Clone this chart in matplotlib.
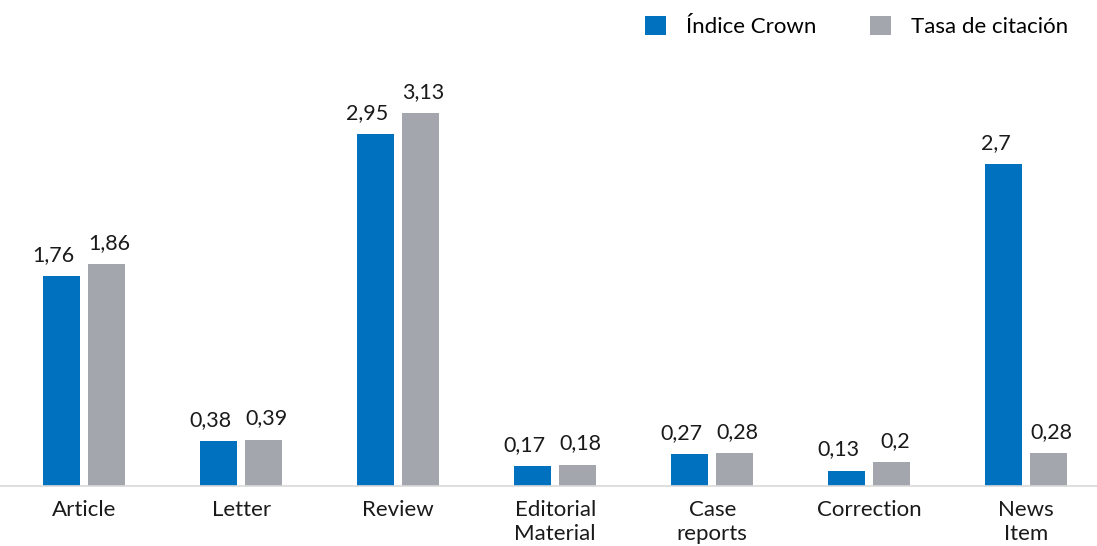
import matplotlib
matplotlib.use('Agg')
import matplotlib.pyplot as plt
import numpy as np

# datos
categorias = ['Article', 'Letter', 'Review', 'Editorial\nMaterial', 'Case\nreports', 'Correction', 'News\nItem']
indice_crown = [1.76, 0.38, 2.95, 0.17, 0.27, 0.13, 2.7]
tasa_citacion = [1.86, 0.39, 3.13, 0.18, 0.28, 0.2, 0.28]
etiq_crown = ['1,76', '0,38', '2,95', '0,17', '0,27', '0,13', '2,7']
etiq_tasa = ['1,86', '0,39', '3,13', '0,18', '0,28', '0,2', '0,28']

azul = '#0071BF'
gris = '#A3A6AC'
fs = 16

plt.rcParams['font.family'] = ['Lato', 'DejaVu Sans']

fig = plt.figure(figsize=(10.97, 5.46), dpi=100)
ax = fig.add_axes([0, 60/546, 1, 426/546])

x = np.arange(len(categorias))
w = 37/157
off = 22.5/157

b1 = ax.bar(x - off, indice_crown, w, color=azul, label='Índice Crown')
b2 = ax.bar(x + off, tasa_citacion, w, color=gris, label='Tasa de citación')

# etiquetas de valor, algo separadas entre si
for rect, t in zip(b1, etiq_crown):
    ax.annotate(t, (rect.get_x() + rect.get_width()/2, rect.get_height()),
                xytext=(-8, 11), textcoords='offset pixels', ha='center', va='bottom',
                fontsize=15.5, color='#1a1a1a')
for rect, t in zip(b2, etiq_tasa):
    ax.annotate(t, (rect.get_x() + rect.get_width()/2, rect.get_height()),
                xytext=(3, 11), textcoords='offset pixels', ha='center', va='bottom',
                fontsize=15.5, color='#1a1a1a')

ax.set_xlim(-0.535, 6.45)
ax.set_ylim(0, 3.574)
ax.set_xticks(x)
ax.set_xticklabels(categorias, fontsize=fs, color='#1a1a1a', linespacing=1.25, va='top')
ax.tick_params(axis='x', length=0, pad=10)
ax.set_yticks([])
for s in ['top', 'right', 'left']:
    ax.spines[s].set_visible(False)
ax.spines['bottom'].set_color('#D9D9D9')
ax.spines['bottom'].set_linewidth(1.2)

fig.legend(loc='upper right', bbox_to_anchor=(0.992, 1.008), ncol=2, frameon=False,
           fontsize=fs, handlelength=0.95, handleheight=0.95, handletextpad=0.9,
           columnspacing=2.4)

fig.savefig('out.png', dpi=100)
